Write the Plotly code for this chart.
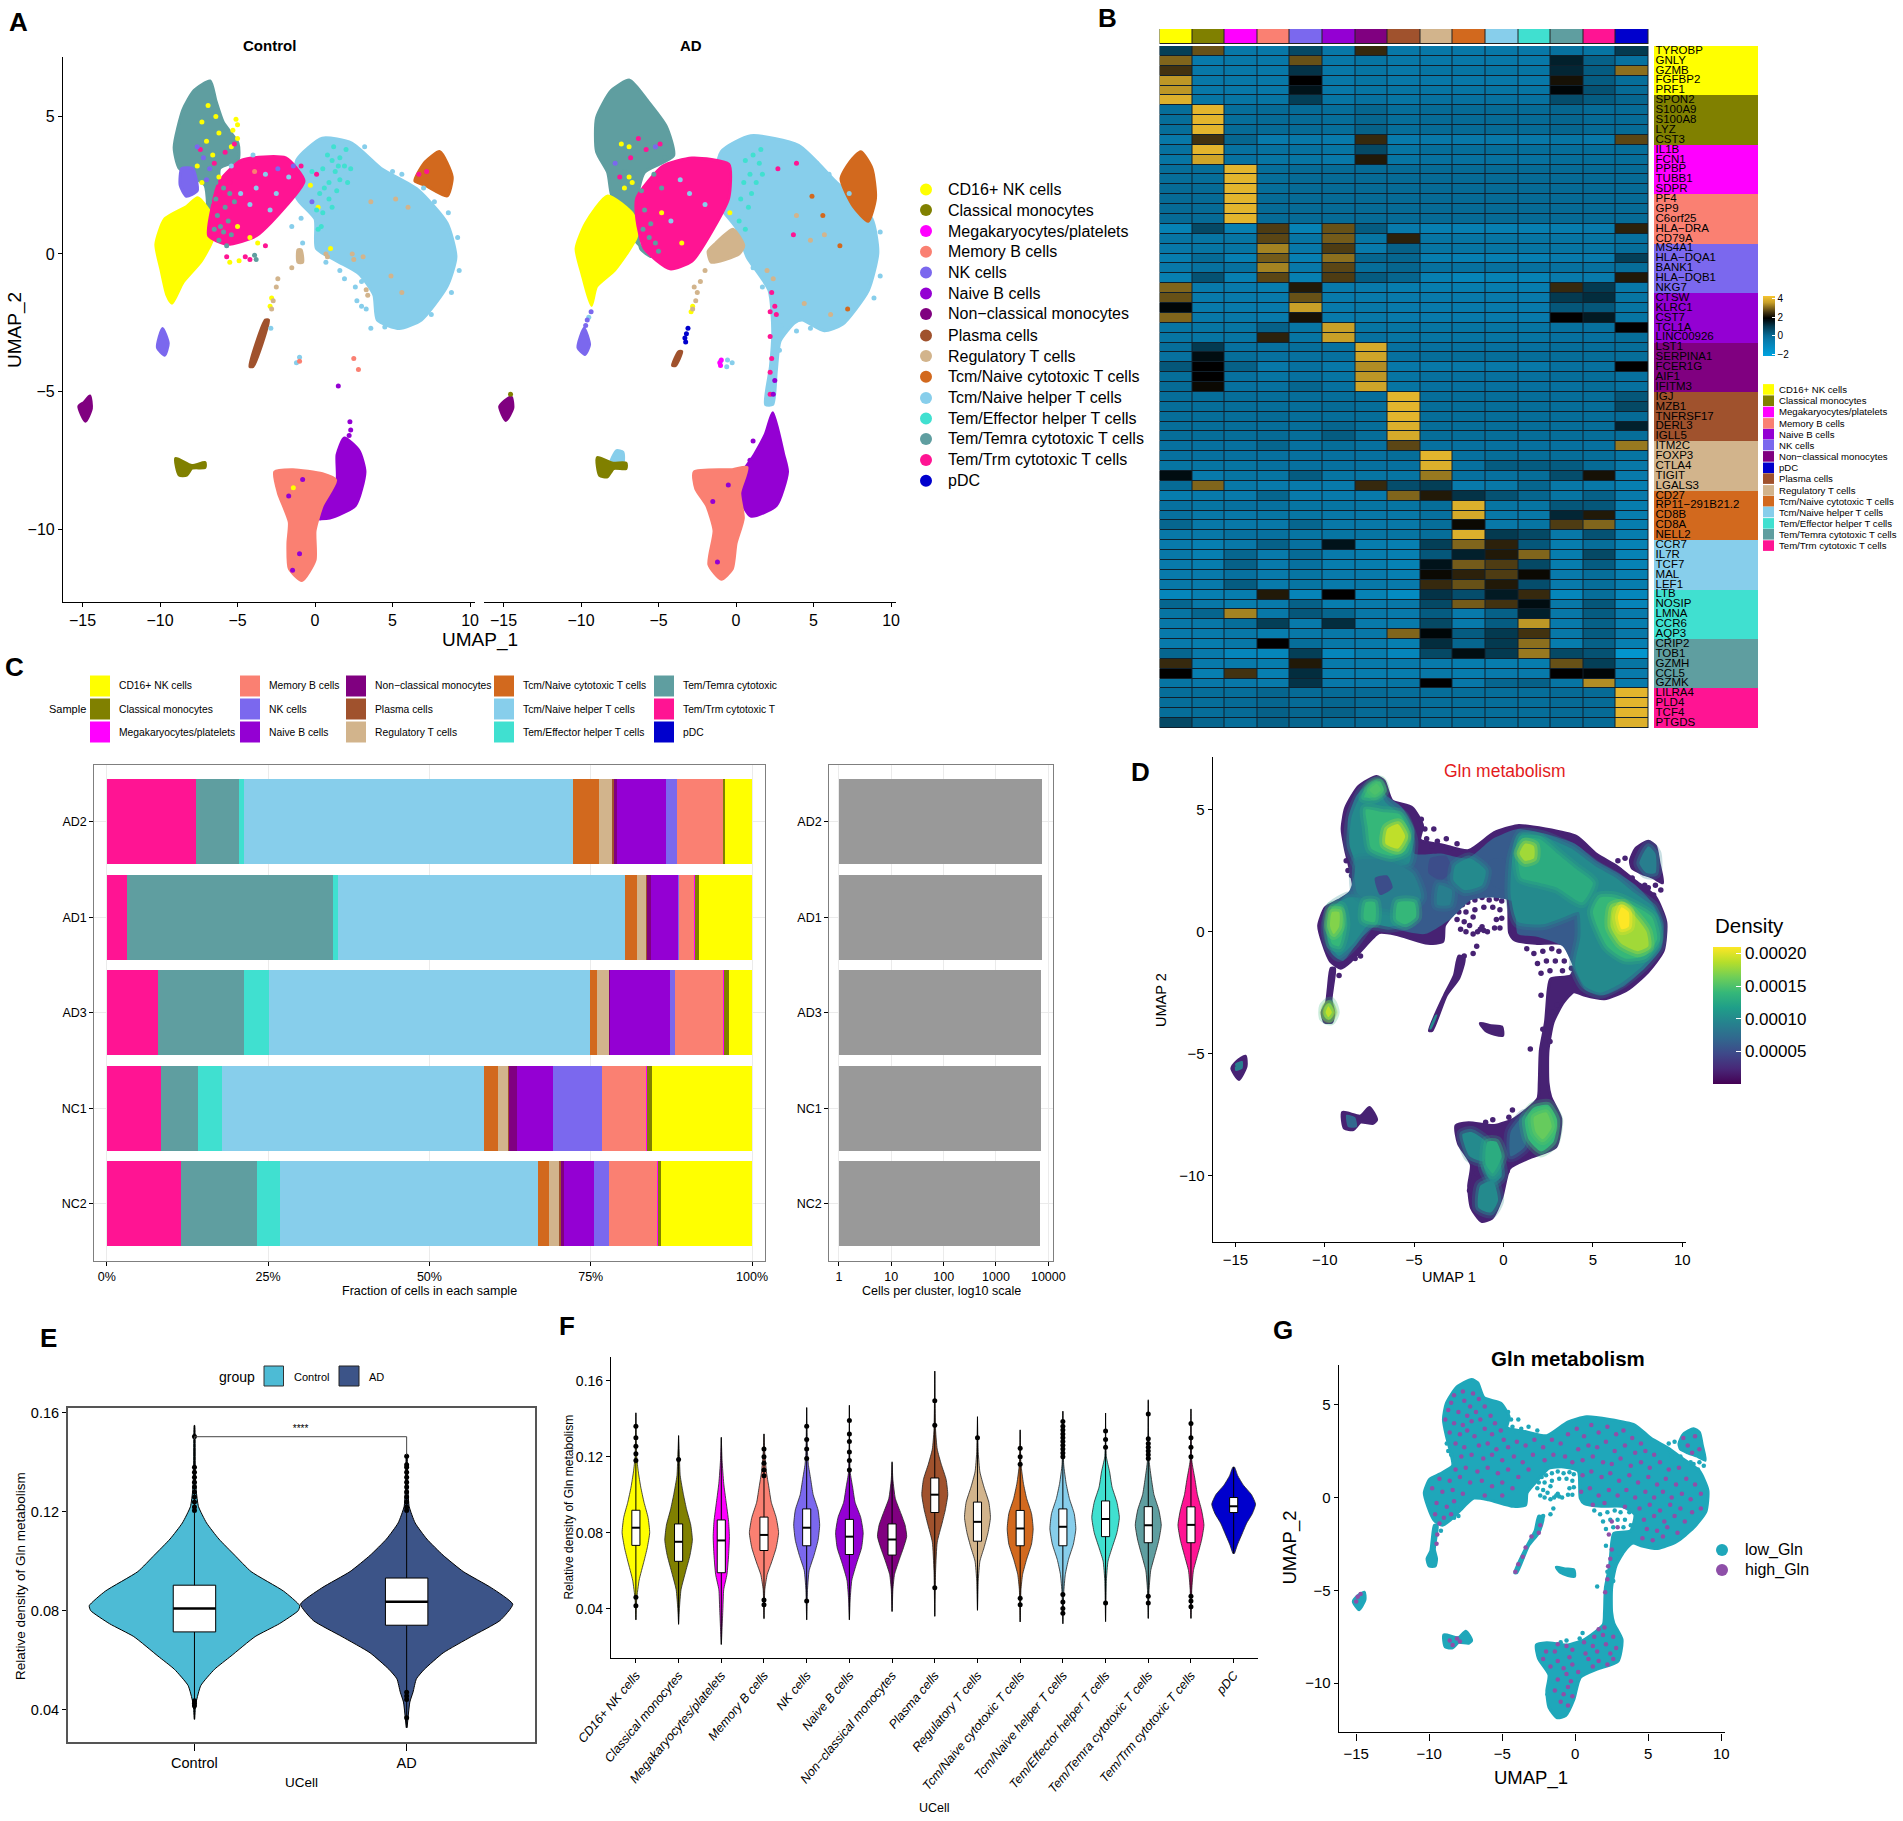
import plotly.graph_objects as go
from plotly.colors import sample_colorscale

W, H = 1903, 1821
FONT = "Liberation Sans"

# Cell types, as named in the panels
CELL_TYPES = ["CD16+ NK cells", "Classical monocytes", "Megakaryocytes/platelets", "Memory B cells",
              "NK cells", "Naive B cells", "Non\u2212classical monocytes", "Plasma cells", "Regulatory T cells",
              "Tcm/Naive cytotoxic T cells", "Tcm/Naive helper T cells", "Tem/Effector helper T cells",
              "Tem/Temra cytotoxic T cells", "Tem/Trm cytotoxic T cells", "pDC"]
YELLOW, OLIVE, MAGENTA, SALMON, SLATE, VIOLET, DPURPLE, SIENNA, TAN, ORANGE, SKY, TURQ, CADET, PINK, BLUE = (
    "#FFFF00", "#808000", "#FF00FF", "#FA8072", "#7B68EE", "#9400D3", "#800080", "#A0522D", "#D2B48C",
    "#D2691E", "#87CEEB", "#40E0D0", "#5F9EA0", "#FF1493", "#0000CD")
CELL_COLORS = [YELLOW, OLIVE, MAGENTA, SALMON, SLATE, VIOLET, DPURPLE, SIENNA, TAN, ORANGE, SKY, TURQ, CADET, PINK, BLUE]

# Panel A, control: cluster outlines
ctrl_helper = [(-1.18, 3.41), (.47, 4.21), (2.37, 4.03), (4.26, 3.11), (6.63, 2.34), (8.52, 1.12), (9.09, -.11),
               (8.52, -1.18), (6.86, -2.4), (5.44, -2.71), (4.02, -2.4), (3.79, -1.49), (2.84, -.72), (1.42, -.26),
               (.09, .2), (0, 1.27), (-1.18, 2.04)]
ctrl_temra = [(-8.52, 5.25), (-7.81, 5.94), (-6.77, 6.29), (-6.39, 5.56), (-5.92, 4.79), (-4.97, 4.03), (-4.97, 3.41),
              (-6.15, 3.11), (-6.0, 1.6), (-6.3, .6), (-6.86, 1.27), (-7.1, 2.5), (-8.76, 3.11), (-9.09, 3.87)]
ctrl_yellow = [(-10.27, .35), (-9.7, 1.27), (-8.28, 1.73), (-7.57, 2.04), (-6.53, 1.27), (-6.63, .5), (-7.34, -.26),
               (-8.52, -1.03), (-9.23, -1.79), (-9.56, -1.49), (-9.94, -.57)]
ctrl_pink = [(-6.15, 2.65), (-4.73, 3.41), (-1.89, 3.49), (-.71, 2.65), (-1.89, 1.73), (-3.79, .66), (-5.68, .35),
             (-6.86, .66), (-6.63, 1.73)]
ctrl_nk = [(-9.84, -2.71), (-9.47, -3.25), (-9.7, -3.68), (-10.17, -3.4)]
ctrl_nk_patch = [(-8.6, 3.1), (-7.9, 3.1), (-7.6, 2.3), (-8.3, 2.1), (-8.7, 2.5)]
ctrl_orange = [(8.05, 3.72), (8.85, 2.8), (8.52, 2.11), (7.1, 2.5), (6.44, 2.65), (7.1, 3.34)]
ctrl_nonclass = [(-14.53, -5.16), (-14.43, -5.62), (-14.81, -6.08), (-15.24, -5.54), (-14.9, -5.39)]
ctrl_olive = [(-8.99, -7.43), (-7.95, -7.69), (-7.1, -7.58), (-7.1, -7.76), (-7.95, -7.79), (-8.28, -8.04), (-8.76, -8.04)]
ctrl_naive = [(1.89, -6.69), (2.84, -7.15), (3.22, -7.92), (2.6, -9.14), (.95, -9.6), (0, -9.6), (.71, -8.99),
              (1.42, -8.22), (1.42, -7.3)]
ctrl_memory = [(-2.6, -7.92), (-1.42, -7.84), (.47, -7.99), (1.33, -8.22), (.47, -9.14), (0, -10.06), (0, -11.13),
               (-.85, -11.87), (-1.66, -11.44), (-1.75, -10.52), (-1.66, -9.75), (-2.37, -8.68)]
ctrl_plasma = [(-4.2, -4.09), (-4.0, -4.09), (-3.0, -2.4), (-3.2, -2.4)]
ctrl_tan = [(-1.1, .15), (-.9, .15), (-.8, -.3), (-1.1, -.3)]
ctrl_yellow_dots = [(-6.9, 5.4), (-6.4, 5.0), (-7.3, 4.8), (-6.2, 4.4), (-5.1, 4.9), (-5.3, 4.5), (-5.0, 4.2), (-5.4, 3.9),
                    (-7.0, 4.1), (-6.6, 3.6), (-7.6, 3.2), (-6.2, 2.8), (-7.3, 2.6), (-5.0, 1.0), (-4.2, .6), (-3.7, .4),
                    (-5.5, -.3), (-4.9, -.25), (.2, 1.7), (-.3, 2.5), (-2.8, -1.6), (-2.9, -1.9), (1.0, .2), (-1.4, -8.5), (-5.0, 4.7)]
ctrl_turq_dots = [(.8, 3.6), (1.2, 3.9), (1.6, 3.5), (2.0, 3.8), (1.9, 3.2), (1.3, 3.0), (.9, 2.6), (.5, 3.1), (1.6, 2.7),
                  (.3, 2.2), (.9, 2.0), (.5, 1.5), (.2, .9), (.4, 1.0), (2.1, 2.6), (1.1, 1.7), (-.2, 3.0), (2.3, 3.1),
                  (1.5, 3.2), (1.1, 3.4), (.6, 2.4), (1.4, 2.3), (.1, 1.6)]
ctrl_tan_dots = [(3.6, 1.9), (5.2, 2.0), (6.0, 1.7), (.7, 0), (.8, -.1), (2.4, 0), (2.5, -.2), (-1.5, -.5), (4.9, -.8),
                 (3.3, -1.3), (3.4, -1.5), (-2.4, -.9), (-2.5, -1.2), (-2.7, -1.7), (-2.8, -2.0), (3.1, -.1), (5.6, -1.4)]
ctrl_sky_dots = [(-1.2, -3.95), (-1.0, -3.75), (-2.85, -2.7), (2.7, -1.7), (3.0, -1.9), (-1.5, 1.0), (-.9, 1.3), (-4.0, 3.6),
                 (-5.4, 3.2), (-.8, .4), (-3.2, 2.9), (-2.5, 2.2), (-4.2, 1.8), (-3.8, 2.4), (-2.9, 1.6), (-4.8, 2.2), (-1.7, 2.8),
                 (5.0, 3.0), (5.6, 2.9), (7.0, 2.4), (8.6, 1.5), (9.2, .6), (9.3, -.6), (8.8, -1.4), (3.3, -2.0), (3.6, -2.7), (4.5, -2.65),
                 (2.6, -1.2), (1.6, -.6), (1.9, -.9), (.7, -.3), (3.2, 3.9), (2.9, 3.7), (7.7, 1.9), (7.5, -2.2), (3.0, -1.0)]
ctrl_pink_dots = [(-5.5, 2.6), (-7.4, 3.8), (-4.2, -.2), (-4.5, -.1), (-5.8, 3.7), (7.2, 3.0), (6.7, 2.9), (.1, 2.9),
                  (-.9, 3.2), (-5.2, 4.0), (-6.5, 3.3), (-5.7, -.1), (-3.2, .3)]
ctrl_cadet_dots = [(-6.3, 1.4), (-5.9, .8), (-5.5, 2.2), (-6.4, 2.6), (-6.8, 1.9), (-5.8, 1.7), (-3.9, -.05), (-3.8, -.2), (-5.4, .7),
                   (-6.4, 2.0), (-5.9, 2.4), (-5.6, 1.2), (-6.1, 1.0), (-6.5, .9), (-5.2, 1.9), (-6.2, .5), (-5.7, .3)]
ctrl_salmon_dots = [(2.5, -3.8), (2.8, -4.2), (-1.0, -3.9), (-3.9, 3.0)]
ctrl_violet_dots = [(1.5, -4.8), (2.25, -6.1), (2.3, -6.4), (2.2, -6.6), (-1.0, -10.9), (-1.45, -11.5), (-1.7, -8.8), (-.8, -8.2)]
ctrl_slate_dots = [(-1.4, 3.2), (-.2, 1.9), (-2.4, 3.1), (-7.6, 3.9), (-7.2, 3.5), (-6.8, 3.1), (-7.0, 2.7)]

# Panel A, AD
ad_helper = [(-.95, 3.72), (.95, 4.3), (4.03, 3.95), (6.4, 2.65), (8.77, 1.27), (9.15, .05), (8.53, -1.33), (6.87, -2.56),
             (5.69, -2.79), (4.27, -2.4), (3.78, -2.5), (2.84, -3.17), (2.6, -4.24), (2.37, -5.47), (1.9, -5.47), (2.22, -4.09),
             (2.37, -2.86), (2.13, -1.33), (.71, -.11), (0, .96), (-1.42, 2.04)]
ad_temra = [(-9, 4.95), (-8.05, 5.94), (-6.87, 6.32), (-5.69, 5.56), (-4.5, 4.64), (-4.03, 3.57), (-5.92, 2.96), (-6.4, 1.88),
            (-6.16, .2), (-5.5, -.1), (-7.0, .8), (-8.05, 2.19), (-8.28, 2.96), (-9, 3.72)]
ad_yellow = [(-10.32, .2), (-9.7, 1.12), (-8.28, 2.11), (-6.63, 1.42), (-6.4, .66), (-7.81, -.57), (-9, -1.18), (-9.33, -1.87), (-9.94, -.72)]
ad_pink = [(-6.4, 2.04), (-4.73, 3.19), (-2.84, 3.49), (-.47, 3.26), (-.47, 2.04), (-1.42, .96), (-2.84, -.26), (-4.26, -.54), (-5.92, .2), (-6.4, 1.27)]
ad_orange = [(7.34, 3.34), (8.05, 3.72), (8.77, 3.11), (9, 2.04), (8.53, 1.19), (7.57, 1.73), (6.77, 2.73)]
ad_nk = [(-9.8, -2.7), (-9.45, -3.3), (-9.75, -3.65), (-10.2, -3.4)]
ad_nonclass = [(-14.5, -5.2), (-14.4, -5.6), (-14.85, -6.05), (-15.25, -5.55), (-14.95, -5.35)]
ad_olive = [(-8.95, -7.4), (-8.0, -7.6), (-7.1, -7.6), (-7.1, -7.8), (-7.9, -7.8), (-8.3, -8.1), (-8.8, -8.05)]
ad_olive_sky = [(-8.1, -7.6), (-7.7, -7.15), (-7.3, -7.2), (-7.3, -7.6), (-7.9, -7.75)]
ad_naive = [(2.37, -5.77), (3.08, -7.3), (3.32, -7.92), (2.6, -9.14), (.95, -9.53), (0, -8.38), (1.18, -7.3), (1.9, -6.54)]
ad_memory = [(-2.7, -7.92), (-.24, -7.84), (.71, -7.76), (.24, -8.68), (.47, -9.6), (0, -10.52), (-.24, -11.44), (-.95, -11.82),
             (-1.75, -11.29), (-1.42, -10.06), (-1.9, -9.14), (-2.6, -8.53)]
ad_plasma = [(-4.1, -4.05), (-3.9, -4.05), (-3.5, -3.55), (-3.7, -3.55)]
ad_tan = [(-1.3, .4), (-.2, .9), (.5, .3), (.2, 0), (-.7, -.2), (-1.6, -.3), (-1.8, .1)]
ad_yellow_dots = [(-7.4, 4.0), (-6.9, 3.9), (-6.9, 2.8), (-7.2, 2.4), (-6.7, 2.6), (-2.8, -1.9), (-2.9, -2.1), (-4.8, 1.5), (-3.5, .4), (-.4, 1.5)]
ad_turq_dots = [(.6, 3.4), (1.1, 3.6), (1.5, 3.3), (.9, 2.9), (.5, 2.6), (1.3, 2.6), (.3, 2.0), (.8, 1.7), (.2, 1.2), (1.0, 2.2), (1.7, 2.9), (.6, .9), (1.6, 3.8)]
ad_tan_dots = [(-2.0, -.6), (-2.3, -1.0), (-2.5, -1.4), (-2.6, -1.7), (-2.8, -2.0), (-2.7, -1.2), (2.0, -.6), (2.4, -.9), (5.7, .7), (4.8, .5), (3.9, 1.4), (4.4, -1.8), (6.1, -2.2)]
ad_pink_dots = [(2.3, -1.4), (2.5, -1.9), (2.2, -2.1), (2.6, -2.2), (2.2, -3.0), (2.3, -3.8), (2.2, -4.3), (2.2, -5.1), (-4.9, 4.0), (-6.3, 4.2), (-5.8, 3.8),
                (-6.8, 3.5), (2.7, 3.1), (3.7, .7), (3.9, 3.3), (-7.5, 2.8)]
ad_cadet_dots = [(-6.1, 2.3), (-5.6, .6), (-5.0, .1), (-4.6, 3.5), (-5.3, 2.9), (-7.2, 3.0), (-5.2, .4), (-4.8, 2.4), (-5.9, 1.6), (-5.5, 1.1), (-6.0, .9)]
ad_orange_dots = [(5.6, 1.4), (6.7, .3), (7.2, -2.0), (4.9, 2.1)]
ad_sky_dots = [(-1.0, -3.9), (-.6, -4.1), (-.25, -3.95), (-.55, -3.85), (-3.0, 2.2), (-4.2, 1.2), (-9.5, -2.3), (-2.0, 1.8), (-3.6, 2.7),
               (5.2, 3.3), (6.0, 2.9), (7.3, 2.2), (9.3, .8), (9.3, -.8), (8.9, -1.6), (3.9, -2.8), (4.8, -2.7), (2.9, -2.6), (2.8, -3.5), (1.7, -1.2), (1.1, -.5)]
ad_magenta_dots = [(-1.05, -3.95), (-.95, -3.85), (-1.0, -4.05)]
ad_blue_dots = [(-3.25, -3.2), (-3.3, -3.05), (-3.2, -2.9), (-3.1, -2.7)]
ad_violet_dots = [(-.5, -8.4), (-1.2, -11.2), (1.1, -6.8), (.9, -7.5), (-1.5, -9.0), (2.4, -5.1), (2.5, -4.6)]
ad_slate_dots = [(-9.35, -2.1), (-9.6, -2.4), (-9.7, -2.6), (-5.2, 3.9), (-7.8, 3.3)]
ad_olive_dots = [(-14.55, -5.1)]

# Panel B: genes, top to bottom, and scaled expression per cluster column
GENES = ["TYROBP", "GNLY", "GZMB", "FGFBP2", "PRF1", "SPON2", "S100A9", "S100A8", "LYZ", "CST3", "IL1B", "FCN1", "PPBP", "TUBB1",
         "SDPR", "PF4", "GP9", "C6orf25", "HLA\u2212DRA", "CD79A", "MS4A1", "HLA\u2212DQA1", "BANK1", "HLA\u2212DQB1", "NKG7", "CTSW", "KLRC1",
         "CST7", "TCL1A", "LINC00926", "LST1", "SERPINA1", "FCER1G", "AIF1", "IFITM3", "IGJ", "MZB1", "TNFRSF17", "DERL3", "IGLL5",
         "ITM2C", "FOXP3", "CTLA4", "TIGIT", "LGALS3", "CD27", "RP11\u2212291B21.2", "CD8B", "CD8A", "NELL2", "CCR7", "IL7R", "TCF7",
         "MAL", "LEF1", "LTB", "NOSIP", "LMNA", "CCR6", "AQP3", "CRIP2", "TOB1", "GZMH", "CCL5", "GZMK", "LILRA4", "PLD4", "TCF4", "PTGDS"]
HEAT = [
    [.9, 2.8, -.4, -.4, .7, -.4, 2.4, -.4, -.4, -.4, -.4, -.4, -.2, -.3, 1.0],
    [3.0, -.5, -.4, -.4, 2.8, -.4, -.3, -.4, -.4, -.4, -.4, -.4, 1.4, .2, -.2],
    [2.5, -.4, -.4, -.4, 1.1, -.4, -.3, -.4, -.3, -.3, -.3, -.3, 1.3, .3, 3.1],
    [3.5, -.4, -.4, -.4, 1.9, -.4, -.3, -.4, -.4, -.4, -.4, -.4, 2.1, .3, -.1],
    [3.5, -.4, -.4, -.4, 1.6, -.4, -.3, -.3, -.3, -.3, -.3, -.3, 1.8, .5, 0],
    [3.9, -.3, -.3, -.3, .9, -.3, -.2, -.3, -.2, -.2, -.2, -.2, .6, .3, .1],
    [-.1, 4.0, -.1, 0, 0, -.1, .1, -.1, 0, 0, 0, 0, .1, 0, 0],
    [-.1, 4.0, -.1, 0, 0, -.1, .1, -.1, 0, 0, 0, 0, .1, 0, 0],
    [-.1, 4.0, 0, 0, 0, -.1, .2, -.1, 0, 0, 0, 0, .1, 0, 0],
    [-.4, 2.5, .1, -.5, -.4, -.5, 2.4, -.5, -.4, -.4, -.4, -.4, -.3, -.4, 2.7],
    [-.2, 4.0, -.2, -.2, -.2, -.3, .7, -.3, -.1, -.1, -.1, -.1, -.1, -.1, -.1],
    [-.3, 3.7, -.2, -.3, -.3, -.4, 2.2, -.3, -.2, -.2, -.2, -.2, -.1, -.1, -.1],
    [-.1, -.1, 4.0, -.1, 0, 0, 0, 0, 0, 0, 0, 0, 0, 0, 0],
    [-.1, -.1, 4.0, -.1, 0, 0, 0, 0, 0, 0, 0, 0, 0, 0, 0],
    [0, 0, 4.0, -.1, 0, 0, 0, 0, 0, 0, 0, 0, 0, 0, 0],
    [0, 0, 4.0, 0, 0, 0, 0, 0, 0, 0, 0, 0, 0, 0, 0],
    [0, 0, 4.0, 0, 0, 0, 0, 0, 0, 0, 0, 0, 0, 0, 0],
    [0, 0, 4.0, 0, 0, 0, 0, 0, 0, 0, 0, 0, 0, 0, 0],
    [-.8, .7, -.7, 2.6, -.8, 2.8, .3, -.5, -.7, -.7, -.7, -.7, -.6, -.5, 2.3],
    [-.3, -.3, -.3, 2.7, -.3, 2.9, -.3, 2.3, -.3, -.3, -.3, -.3, -.3, -.3, -.2],
    [-.4, -.3, -.3, 3.3, -.4, 2.6, -.5, .2, -.3, -.3, -.3, -.3, -.3, -.3, -.1],
    [-.6, 0, -.7, 2.9, -.7, 3.1, .1, .1, -.6, -.7, -.7, -.7, -.5, -.5, .9],
    [-.4, -.2, -.2, 3.3, -.4, 2.7, -.1, .1, -.2, -.2, -.2, -.2, -.2, -.2, -.1],
    [-.7, .5, -.7, 2.7, -.7, 2.6, .3, .1, -.7, -.9, -.8, -.8, -.5, -.5, 2.2],
    [3.0, -.5, -.5, -.6, 2.2, -.5, -.5, -.6, -.6, -.6, -.6, -.6, 2.4, 1.0, -.4],
    [2.8, -.5, -.5, -.5, 2.8, -.5, -.5, -.5, -.5, -.5, -.5, -.5, 1.0, 1.2, -.3],
    [1.8, -.5, -.5, -.5, 3.6, -.5, -.4, -.5, -.5, -.5, -.5, -.5, .4, .4, -.3],
    [3.0, -.4, -.4, -.5, 2.1, -.5, -.4, -.5, -.5, -.5, -.5, -.5, 1.9, 1.5, -.3],
    [-.3, -.3, -.3, .2, -.3, 3.6, -.3, -.3, -.3, -.3, -.3, -.3, -.2, -.2, 1.9],
    [-.3, -.3, -.3, 2.3, -.3, 3.6, -.2, -.3, -.3, -.3, -.3, -.3, -.2, -.2, -.1],
    [-.1, 1.0, -.2, -.2, -.1, -.2, 3.8, -.2, -.2, -.2, -.2, -.2, -.1, -.1, -.1],
    [-.2, 1.7, -.1, -.2, -.2, -.2, 3.7, -.2, -.1, -.1, -.1, -.1, -.1, -.1, -.1],
    [.4, 1.9, .2, -.4, -.2, -.4, 3.4, -.4, -.4, -.4, -.4, -.4, -.2, -.2, 1.9],
    [-.1, 1.9, -.2, -.3, -.2, -.3, 3.5, -.3, -.2, -.2, -.2, -.2, -.1, -.1, -.2],
    [0, 2.0, -.2, -.2, .1, -.2, 3.7, -.3, -.2, -.2, -.2, -.2, -.2, -.1, -.2],
    [-.1, -.1, -.1, -.1, -.1, -.1, -.1, 4.0, -.1, -.1, -.1, -.1, -.1, -.1, .4],
    [-.1, -.1, -.1, -.1, -.1, 0, -.1, 4.0, -.1, -.1, -.1, -.1, -.1, -.1, .7],
    [-.1, -.1, -.1, 0, -.1, -.1, -.1, 4.0, -.1, -.1, -.1, -.1, -.1, -.1, 0],
    [-.1, -.1, -.1, -.1, -.1, .1, -.1, 3.9, -.1, -.1, -.1, -.1, -.1, -.1, 1.4],
    [-.1, -.1, -.1, 0, -.1, .3, -.1, 3.8, -.1, -.1, -.1, -.1, -.1, -.1, -.1],
    [-.2, -.2, -.2, .1, -.2, -.1, -.2, 2.7, -.2, -.2, -.2, -.2, -.2, -.2, 3.2],
    [-.2, -.2, -.2, -.2, -.2, -.2, -.2, -.1, 4.0, -.2, -.1, -.1, -.1, -.1, -.3],
    [-.3, -.3, -.3, -.2, -.2, -.2, -.2, -.2, 3.9, -.2, .3, .3, .3, 0, -.4],
    [1.7, -.5, -.3, -.3, .3, -.3, -.3, -.3, 3.2, -.2, -.2, -.1, .6, 2.1, -.5],
    [0, 3.0, -.4, -.5, -.5, -.5, 2.4, .6, .9, -.5, -.4, .1, -.4, -.4, -.7],
    [-.6, -.5, -.5, .1, -.5, -.5, -.5, 3.0, 2.2, 1.1, .5, .1, -.3, .2, -.5],
    [-.2, -.3, -.2, -.2, -.3, -.3, -.3, -.3, -.1, 3.9, -.3, -.3, .4, .4, -.6],
    [-.2, -.4, -.4, -.3, -.3, -.4, -.4, -.4, -.2, 3.8, -.4, -.4, 1.3, 2.2, -.6],
    [.1, -.4, -.4, -.4, .1, -.4, -.4, -.4, -.1, 2.0, -.4, -.3, 2.6, 3.0, -.6],
    [-.4, -.4, -.2, -.2, -.3, -.3, -.3, -.3, -.1, 3.9, 1.0, .7, -.4, .5, -.6],
    [-.5, -.7, -.4, .2, -.2, 1.6, -.6, -.7, .9, 3.0, 2.3, .4, -.6, -.1, -.8],
    [-.4, -.7, .1, -.5, .0, -.5, -.6, -.7, .4, 1.4, 2.2, 3.0, -.6, .7, -.8],
    [-.5, -.6, .2, -.5, -.2, -.6, -.6, -.8, 1.6, 2.9, 2.6, .7, -.6, .3, -.8],
    [-.5, -.5, -.2, -.5, -.3, -.5, -.5, -.7, 2.0, 2.3, 2.6, 2.0, -.5, -.1, -.7],
    [-.4, -.5, .3, -.5, -.3, -.5, -.4, -.5, 2.4, 2.8, 2.2, .6, -.5, -.1, -.6],
    [-1.0, -.7, -.6, 2.2, -.9, 1.9, -.8, -1.2, 1.1, .6, 1.5, 2.4, -1.0, -.1, -1.0],
    [.1, -.4, -.6, -.5, .2, -.6, -.5, -.4, .7, 2.9, 2.5, 1.7, -.4, .4, -.9],
    [-.3, .1, 3.3, -.4, .4, .1, -.4, -.5, .3, -.5, .2, 1.4, -.4, .3, -.5],
    [-.4, -.4, -.1, .9, -.5, 1.2, -.5, -.5, .7, -.5, .3, 3.5, -.5, .2, -.6],
    [-.5, -.5, -.4, -.6, -.4, -.4, -.4, 3.0, 1.8, .3, 1.0, 2.5, -.4, .3, -.4],
    [-.5, -.6, -.4, 1.9, -.1, -.4, -.5, -.7, 1.2, .1, 1.0, 3.1, -.6, .2, -.7],
    [.1, -.5, -1.0, -1.0, .9, -1.0, -.6, -1.0, .7, 1.7, 1.0, 3.2, .7, .5, -1.6],
    [2.4, -.5, -.5, -.6, 2.2, -.5, -.5, -.5, -.5, -.6, -.6, -.6, 2.8, .9, -.3],
    [1.9, -.7, 2.5, -.7, 1.2, -.6, -.6, -.6, -.4, -.6, -.5, -.5, 1.9, 1.8, -.5],
    [-.3, -.4, -.4, -.5, 1.1, -.4, -.4, -.3, 1.9, -.4, .1, .2, -.3, 3.4, -.5],
    [-.1, -.1, -.1, .1, 0, 0, 0, -.1, -.1, -.1, -.1, -.1, 0, 0, 4.0],
    [-.1, -.1, 0, .1, 0, .1, 0, 0, -.1, -.1, -.1, -.1, 0, 0, 4.0],
    [-.1, -.1, 0, .2, .1, .2, 0, .1, -.1, -.1, -.1, -.1, 0, 0, 4.0],
    [.7, .1, -.1, .2, .1, 0, 0, -.1, -.1, -.1, -.1, -.1, 0, 0, 3.9],
]
HEAT_LEGEND = [CELL_TYPES[i] for i in (0, 1, 2, 3, 5, 4, 6, 14, 7, 8, 9, 10, 11, 12, 13)]
HEAT_LEGEND_COLORS = [CELL_COLORS[i] for i in (0, 1, 2, 3, 5, 4, 6, 14, 7, 8, 9, 10, 11, 12, 13)]
# stack order left to right in panel C
SAMPLES = ["NC2", "NC1", "AD3", "AD1", "AD2"]
STACK_ORDER = [13, 12, 11, 10, 9, 8, 7, 6, 5, 4, 3, 2, 1, 0]
frac_AD2 = [13.9, 6.6, .7, 51.1, 4.0, 2.2, .1, .4, 7.6, 1.7, 7.3, .0, .2, 4.2]
frac_AD1 = [3.1, 31.9, .9, 44.4, 1.9, 1.5, .05, .55, 4.3, .1, 2.4, .05, .65, 8.2]
frac_AD3 = [7.9, 13.3, 4.0, 49.7, 1.0, 2.0, .05, .05, 9.3, .7, 7.6, .05, .85, 3.5]
frac_NC1 = [8.4, 5.7, 3.7, 40.7, 2.1, 1.7, .1, 1.2, 5.6, 7.5, 7.0, .05, .75, 15.5]
frac_NC2 = [11.5, 11.8, 3.5, 40.0, 1.8, 1.6, .2, .5, 4.6, 2.3, 7.6, .05, .45, 14.1]
cells_per_sample = [7000, 7200, 7300, 7450, 7590]
C_LEGEND_COLS = [[0, 1, 2], [3, 4, 5], [6, 7, 8], [9, 10, 11], [12, 13, 14]]
C_LEGEND_CLIPPED = {12: "Tem/Temra cytotoxic", 13: "Tem/Trm cytotoxic T"}

# Panel D / G: shared silhouette of all cells
body = [(-10.34, .25), (-9.97, .98), (-9.25, 1.27), (-8.4, 1.71), (-8.54, 2.44), (-8.83, 3.32), (-9.03, 4.2), (-8.83, 5.07), (-8.1, 5.95),
        (-7.1, 6.35), (-6.68, 6.17), (-6.25, 5.37), (-5.1, 5.07), (-4.53, 4.34), (-4.67, 3.76), (-3.38, 3.54), (-1.95, 3.32), (-.52, 4.05),
        (.77, 4.34), (2.35, 4.2), (4.07, 3.9), (5.2, 3.17), (6.36, 2.66), (7.36, 2.08), (8.5, 1.42), (9.08, .39), (8.94, -.77), (8.08, -1.65),
        (6.93, -2.38), (5.64, -2.75), (4.5, -2.6), (3.93, -2.46), (3.35, -2.9), (2.78, -3.7), (2.49, -4.87), (2.49, -6.18), (2.64, -6.77),
        (3.2, -7.65), (2.92, -8.82), (1.49, -9.25), (.34, -9.69), (-.09, -10.86), (-.66, -11.74), (-1.23, -11.86), (-1.8, -11.3), (-1.95, -10.42),
        (-1.8, -9.55), (-2.52, -8.67), (-2.66, -7.94), (-1.95, -7.82), (-.52, -7.94), (.63, -7.65), (1.92, -6.84), (2.0, -6.18), (2.06, -4.87),
        (2.35, -3.7), (2.5, -2.4), (2.64, -1.94), (3.78, -1.8), (4.07, -.92), (3.2, -.48), (1.78, -.48), (.63, -.34), (.34, -.04), (.2, 1.42),
        (-.8, 1.64), (-1.8, 1.57), (-2.5, 1.0), (-3.3, .25), (-3.4, -.4), (-4.24, -.48), (-5.96, -.12), (-6.96, -.04), (-7.97, -.77), (-8.54, -1.21),
        (-9.1, -1.5), (-9.68, -1.21), (-10.1, -.48)]
isl_nk = [(-9.45, -1.5), (-9.55, -2.2), (-9.65, -2.8), (-9.5, -3.3), (-9.6, -3.7), (-10, -3.7), (-10.15, -3.3), (-9.9, -2.9), (-9.8, -2.3), (-9.65, -1.5)]
isl_line = [(-4.15, -4.05), (-4.0, -4.05), (-3.2, -2.6), (-2.5, -1.9), (-2.2, -1.1), (-2.5, -1.0), (-2.75, -1.8), (-3.3, -2.6)]
isl_small = [(-1.3, -3.75), (-.7, -3.85), (-.1, -3.9), (-.05, -4.25), (-.5, -4.2), (-1, -4.05)]
isl_nc = [(-14.45, -5.1), (-14.4, -5.5), (-14.8, -6.05), (-15.2, -5.6), (-14.9, -5.3)]
isl_olive = [(-9, -7.4), (-8, -7.55), (-7.5, -7.2), (-7.1, -7.7), (-7.3, -7.85), (-8, -7.8), (-8.4, -8.1), (-8.9, -8.05)]
isl_orange = [(7.1, 2.9), (7.4, 3.4), (8.1, 3.7), (8.5, 3.5), (8.7, 2.8), (8.9, 2.0), (8.4, 2.2), (7.7, 2.4), (7.2, 2.6)]
stray_cells = [(-2.3, 1.1), (-2.0, 1.2), (-1.6, 1.3), (-1.2, 1.4), (-.8, 1.3), (-.4, 1.35), (-.1, 1.25), (-2.5, .8), (-2.1, .8), (-1.6, .9), (-1.1, 1.0),
               (-.6, 1.0), (-.2, .9), (-2.6, .5), (-2.2, .4), (-1.7, .6), (-.4, .5), (-.1, .55), (-2.4, .1), (-2.1, .0), (-1.9, .25), (-1.7, -.1), (-1.45, 0),
               (-1.2, .2), (-1.3, .1), (-1.1, .05), (-.9, .0), (-.5, .15), (-.2, .15), (-1.5, -.6), (-1.7, -.9), (-2.2, -1.0), (1.3, -.7), (1.7, -.9), (2.2, -.8),
               (2.7, -.7), (3.1, -.8), (3.7, -.8), (1.9, -1.3), (2.4, -1.2), (2.9, -1.2), (3.4, -1.2), (2.1, -1.7), (2.6, -1.6), (3.3, -1.6), (3.8, -1.5),
               (-4.6, 4.6), (-4.4, 4.2), (-3.9, 4.2), (-4.3, 3.8), (-3.7, 3.7), (-3.2, 3.8), (-2.6, 3.6), (-4.0, 3.5), (-3.0, 3.4), (6.5, 2.5), (6.4, 2.9),
               (6.8, 3.0), (6.6, 2.2), (7.2, 2.2), (8.1, 1.8), (8.5, 1.9), (8.8, 1.7), (7.9, 1.9), (8.4, 1.5), (-8.8, 2.9), (-8.7, 2.5), (-8.5, 2.3), (-8.0, -1.0),
               (-8.1, -.6), (-8.3, -1.1), (-9.2, -1.8), (-7.7, -.3), (-1.9, -10.6), (-1.5, -9.9), (.2, -9.8), (.5, -9.5), (-.6, -7.7), (.3, -7.6), (.5, -7.3), (-1, -7.8),
               (1.5, -4.8), (3.0, -3.0), (2.2, -4.0), (2.6, -4.5), (2.7, -3.3), (2.1, -2.6)]

# Panel D: density levels (lowest first) with the region each covers
DENSITY_BASE = 0.00002
DENSITY_MAX = 0.00021
dens_mid = (0.00006, [(-9.9, .2), (-9.6, .9), (-8.6, 1.7), (-8.3, 2.6), (-8.6, 3.6), (-8.7, 4.6), (-8.2, 5.6), (-7.1, 6.2), (-6.6, 5.6), (-5.7, 5.1), (-5, 4.2), (-5, 3.2),
                      (-3.5, 3.2), (-2, 3), (-.6, 3.8), (.8, 4.2), (2.4, 4), (4, 3.6), (5.2, 2.9), (6.4, 2.4), (7.4, 1.9), (8.3, 1.2), (8.9, .3), (8.8, -.7), (7.9, -1.5), (6.8, -2.2),
                      (5.6, -2.6), (4.6, -2.4), (4, -1.6), (3.3, -.6), (1.8, -.2), (.8, -.1), (.6, 1.2), (-.6, 1.4), (-1.8, 1.3), (-3, .5), (-4.4, -.1), (-6, .1), (-7, .3), (-8, -.3),
                      (-9, -1.2), (-9.6, -.9)])
dens_temra = (0.0001, [(-8.6, 3.5), (-8.5, 4.7), (-7.9, 5.7), (-7.1, 6.1), (-6.6, 5.3), (-5.6, 4.7), (-5.1, 3.7), (-5.3, 2.8), (-6.7, 2.6), (-7.9, 2.5)])
dens_left = (0.0001, [(-9.9, .2), (-9.6, 1), (-8.7, 1.4), (-8.2, 1.4), (-7.6, 1.4), (-6.6, 1.6), (-5.4, 1.9), (-5, 1), (-5.2, .4), (-6.4, .2), (-7.5, .3), (-8.4, -.5), (-9.2, -1), (-9.7, -.6)])
dens_centre = (0.00009, [(-8.2, 2.9), (-6.5, 2.9), (-5.1, 2.4), (-4.6, 1.4), (-5.4, .9), (-7, 1), (-8.2, 1.6)])
dens_dark = (0.00005, [(-7.2, 2.2), (-6.5, 2.3), (-6.2, 1.8), (-6.9, 1.5)])
dens_dark2 = (0.00005, [(-4.1, 3.0), (-3.2, 3.1), (-2.9, 2.5), (-3.5, 2.1), (-4.2, 2.4)])
dens_dark3 = (0.00006, [(-.8, 2.9), (0, 3.0), (.4, 2.2), (.1, 1.7), (-.6, 1.9)])
dens_mid2 = (0.0001, [(-2.7, 2.7), (-1.9, 3), (-1, 2.5), (-1.2, 1.9), (-2.2, 1.7), (-2.8, 2.1)])
dens_mid3 = (0.00009, [(-3.6, 1.9), (-2.9, 1.7), (-3, 1.1), (-3.7, 1.1)])
dens_right = (0.0001, [(.5, 3), (1, 4), (2.2, 3.9), (3.8, 3.4), (5.1, 2.7), (6.3, 2.2), (7.3, 1.6), (8.4, 1), (8.8, .3), (8.7, -.6), (7.8, -1.4), (6.6, -2.1), (5.4, -2.5), (4.5, -2.2),
                       (4, -1.4), (4.3, -.2), (4.2, .8), (3.4, .6), (2.2, .3), (.8, .4), (.4, 1.5)])
dens_orange = (0.00009, [(7.6, 2.8), (8.1, 3.5), (8.5, 3.2), (8.5, 2.4), (8.0, 2.4)])
dens_nc = (0.00009, [(-14.6, -5.3), (-14.6, -5.6), (-15, -5.7), (-15, -5.4)])
dens_line = (0.0001, [(-4.15, -4.0), (-4.05, -4.0), (-3.7, -3.4), (-3.8, -3.4)])
dens_olive = (0.00007, [(-8.8, -7.5), (-8.3, -7.6), (-8.2, -8), (-8.7, -8)])
dens_m1 = (0.0001, [(-2.3, -8.3), (-1.8, -8.2), (-1, -8.6), (-1.1, -9.4), (-1.9, -9.2)])
dens_m2 = (0.0001, [(-1.1, -9.6), (-.3, -9.2), (-.1, -10), (-.6, -10.3)])
dens_m3 = (0.0001, [(-1.3, -10.4), (-.6, -10.2), (-.3, -11), (-.7, -11.5), (-1.4, -11.3)])
dens_b_low = (0.00007, [(.4, -8.2), (1.2, -7.5), (1.2, -8.8), (.4, -9.2)])
dens_g1 = (0.00014, [(-7.4, 3.4), (-7.6, 4.3), (-7.7, 5), (-6.8, 4.9), (-5.8, 4.8), (-5.3, 4.1), (-5.5, 3.3), (-6.3, 3.1)])
dens_g2 = (0.00014, [(-7.8, 5.5), (-7.4, 6), (-6.9, 6.15), (-6.7, 5.8), (-7.2, 5.5)])
dens_g3 = (0.00014, [(-9.8, .3), (-9.6, 1.0), (-9.1, 1.0), (-8.9, .3), (-9.2, -.6), (-9.6, -.5)])
dens_g4 = (0.00014, [(-7.8, .5), (-7.7, 1.2), (-7.2, 1.2), (-7.2, .4)])
dens_g5 = (0.00014, [(-6, .5), (-5.9, 1.2), (-5, 1.2), (-4.9, .6), (-5.5, .3)])
dens_g6 = (0.00013, [(.8, 3.0), (1, 3.8), (2, 3.8), (3, 3.2), (4, 2.6), (5, 2), (4.4, 1.2), (3, 1.8), (2, 2), (1, 2.2)])
dens_g7 = (0.00014, [(5, .8), (5.4, 1.4), (6.2, 1.4), (7.2, 1.1), (8.3, .6), (8.6, -.3), (7.9, -1), (6.8, -1.1), (5.8, -.6)])
dens_g8 = (0.00014, [(1.2, -7.7), (1.7, -7.2), (2.5, -7.1), (3, -7.7), (2.8, -8.6), (2.1, -9), (1.4, -8.5)])
dens_g9 = (0.00013, [(-.9, -8.6), (-.4, -8.6), (-.1, -9.2), (-.6, -9.9), (-1, -9.5)])
dens_g10 = (0.00014, [(-10, -3.1), (-9.7, -2.9), (-9.5, -3.3), (-9.7, -3.6), (-10, -3.5)])
dens_y1 = (0.00019, [(-6.6, 3.6), (-6.5, 4.2), (-5.9, 4.4), (-5.5, 3.9), (-5.9, 3.4)])
dens_y2 = (0.00017, [(-9.7, .2), (-9.6, .8), (-9.2, .8), (-9.2, .2), (-9.5, -.1)])
dens_y3 = (0.00018, [(.9, 3.2), (1.2, 3.6), (1.7, 3.5), (1.7, 3.0), (1.2, 2.9)])
dens_y4 = (0.00018, [(6, .2), (6.1, 1), (6.7, 1.1), (7.4, .6), (8, .0), (8.1, -.6), (7.5, -.8), (6.6, -.5)])
dens_y5 = (0.00021, [(6.4, .6), (6.6, 1), (7, .8), (7, .2), (6.6, .1)])
dens_y6 = (0.00019, [(-9.95, -3.3), (-9.8, -3.05), (-9.6, -3.3), (-9.8, -3.5)])
dens_y7 = (0.00016, [(1.7, -7.6), (2.4, -7.4), (2.7, -8), (2.2, -8.5), (1.8, -8.2)])
dens_y8 = (0.00015, [(-7.5, 5.8), (-7.1, 6.05), (-6.85, 5.8), (-7.2, 5.6)])

# Panel E: violin outlines read as (value, half width)
ctrl_profile = [(.036, .001), (.040, .004), (.043, .008), (.0497, .03), (.0563, .095), (.0616, .172), (.0695, .286), (.0747, .40), (.08, .489), (.082, .496),
                (.0879, .42), (.0958, .267), (.1024, .19), (.109, .115), (.1155, .057), (.1221, .019), (.1287, .008), (.1353, .004), (.155, .001)]
ad_profile = [(.0326, .002), (.043, .015), (.047, .03), (.0524, .046), (.0563, .084), (.0629, .172), (.0695, .305), (.076, .44), (.0826, .5),
              (.0892, .40), (.0958, .267), (.1024, .172), (.109, .095), (.1155, .04), (.1221, .012), (.1287, .006), (.1435, .001)]
e_q1, e_med, e_q3 = [.0714, .0741], [.0809, .0836], [.0903, .0932]
e_low, e_high = [.036, .0326], [.155, .1435]
e_ctrl_outliers = [.0415, .0425, .0435, .1505, .1205, .122, .124, .126, .128, .13, .132, .134, .136, .138]
e_ad_outliers = [.0367, .044, .0455, .047, .1425, .1205, .122, .124, .126, .128, .13, .132, .134, .136, .138, .139]

# Panel F: one row per cell type
f_vals = [[.034, .045, .055, .065, .072, .08, .088, .096, .104, .112, .12, .143],
          [.032, .04, .05, .06, .068, .076, .084, .092, .1, .11, .12, .131],
          [.021, .03, .04, .05, .058, .068, .078, .086, .096, .106, .118, .13],
          [.035, .05, .058, .064, .072, .08, .088, .096, .104, .112, .122, .132],
          [.034, .05, .06, .068, .076, .084, .092, .1, .108, .116, .122, .146],
          [.034, .045, .055, .064, .072, .08, .088, .096, .104, .112, .147],
          [.0385, .05, .058, .066, .072, .078, .084, .09, .098, .108, .117],
          [.036, .06, .075, .085, .092, .1, .108, .116, .124, .134, .165],
          [.039, .055, .065, .072, .08, .088, .096, .104, .112, .122, .141],
          [.033, .05, .058, .066, .074, .082, .09, .098, .106, .116, .134],
          [.032, .048, .058, .066, .074, .082, .09, .098, .106, .116, .144],
          [.033, .055, .065, .072, .08, .088, .096, .104, .112, .12, .143],
          [.035, .05, .06, .068, .076, .084, .092, .1, .108, .118, .15],
          [.035, .05, .06, .068, .076, .084, .092, .1, .108, .118, .145],
          [.069, .074, .08, .085, .09, .095, .1, .105, .11, .1145]]
f_dens = [[0, 1, 4, 10, 14, 17, 15, 10, 6, 3, 1, 0],
          [0, 1, 3, 9, 14, 17, 15, 10, 6, 2, 1, 0],
          [0, 1, 2, 3, 7, 9, 10, 9, 6, 3, 1, 0],
          [0, 1, 4, 9, 15, 18, 15, 9, 6, 3, 1, 0],
          [0, 1, 3, 9, 14, 16, 14, 8, 5, 2, 1, 0],
          [0, 1, 3, 9, 15, 17, 14, 7, 4, 1, 0],
          [0, 1, 3, 9, 14, 18, 16, 11, 4, 1, 0],
          [0, 1, 3, 9, 13, 16, 14, 8, 3, 1, 0],
          [0, 1, 3, 8, 13, 16, 14, 8, 3, 1, 0],
          [0, 1, 3, 8, 14, 16, 14, 8, 4, 1, 0],
          [0, 1, 3, 7, 13, 16, 14, 8, 4, 1, 0],
          [0, 1, 3, 8, 14, 17, 14, 8, 5, 1, 0],
          [0, 1, 3, 8, 13, 16, 13, 7, 4, 1, 0],
          [0, 1, 3, 8, 13, 16, 13, 8, 5, 1, 0],
          [1, 5, 11, 16, 23, 27, 22, 12, 5, 1]]
f_q1 = [.0733, .0649, .0589, .0706, .0731, .0685, .0682, .0906, .0755, .0731, .0731, .0779, .0747, .0747, .0906]
f_med = [.0826, .0752, .0759, .0788, .0826, .0779, .0764, .1, .0857, .0822, .0831, .0872, .0839, .0841, .0939]
f_q3 = [.0918, .0846, .0867, .0882, .0925, .087, .0846, .1088, .0961, .0917, .0925, .0967, .0937, .0936, .0985]
f_low = [.0342, .0316, .0213, .0345, .0342, .0342, .0385, .0359, .0393, .033, .0321, .0333, .0347, .0347, .0688]
f_high = [.1432, .1312, .1303, .132, .1457, .1471, .1174, .1651, .1411, .1342, .1439, .143, .1497, .1452, .1145]
f_outliers = [[.136, .13, .1255, .1215, .118, .046, .0415],
              [.1185],
              [],
              [.124, .12, .1165, .113, .11, .0445, .042],
              [.136, .129, .124, .119, .044],
              [.139, .132, .128, .1225, .118, .113],
              [],
              [.1495, .1365, .051],
              [.13],
              [.1245, .12, .116, .0455, .042],
              [.1385, .136, .134, .132, .13, .128, .126, .124, .122, .12, .0475, .0435, .04, .0375],
              [.1335, .129, .125, .043],
              [.1425, .1295, .127, .125, .123, .121, .119, .0465, .043],
              [.1375, .13, .125, .12, .0465, .044, .041],
              []]
F_LABELS = ["CD16+ NK cells", "Classical monocytes", "Megakaryocytes/platelets", "Memory B cells", "NK cells", "Naive B cells",
            "Non\u2212classical monocytes", "Plasma cells", "Regulatory T cells", "Tcm/Naive cytotoxic T cells", "Tcm/Naive helper T cells",
            "Tem/Effector helper T cells", "Tem/Temra cytotoxic T cells", "Tem/Trm cytotoxic T cells", "pDC"]

# Panel G: high_Gln cells
high_gln = [(-7.7, 5.7), (-8.3, 5.5), (-7.0, 5.6), (-8.5, 5.1), (-7.6, 5.2), (-7.2, 4.9), (-6.6, 5.3), (-8.7, 4.7), (-8.0, 4.6), (-7.4, 4.4), (-6.8, 4.6), (-6.2, 4.9),
            (-5.8, 4.4), (-8.9, 4.2), (-8.3, 4.0), (-7.7, 3.9), (-7.1, 4.1), (-6.5, 4.2), (-5.5, 4.0), (-8.6, 3.5), (-7.9, 3.4), (-7.4, 3.6), (-6.9, 3.3), (-6.2, 3.7),
            (-5.7, 3.4), (-5.1, 3.6), (-4.9, 3.1), (-8.2, 2.9), (-7.6, 2.7), (-6.6, 2.8), (-6.0, 2.9), (-5.4, 2.6), (-4.6, 2.7), (-4.0, 3.0), (-3.4, 2.8), (-2.8, 3.1),
            (-2.2, 2.7), (-1.6, 3.1), (-1.0, 2.9), (-.5, 3.4), (.1, 3.7), (.6, 3.3), (1.1, 3.9), (1.6, 3.5), (2.2, 3.8), (2.8, 3.4), (3.3, 3.6), (3.9, 3.2), (4.5, 2.9),
            (.9, 2.8), (.2, 2.6), (1.5, 2.7), (2.1, 3.0), (2.7, 2.5), (3.4, 2.8), (4.1, 2.4), (4.8, 2.5), (5.4, 2.3), (-7.8, 2.2), (-7.1, 2.3), (-6.3, 2.1), (-5.7, 2.3),
            (-5.0, 2.0), (-4.2, 2.2), (-3.6, 1.9), (-2.9, 2.3), (-2.1, 2.0), (-1.5, 2.3), (-.7, 2.2), (-.2, 1.9), (.5, 2.0), (1.2, 2.2), (1.9, 1.9), (2.5, 1.8), (3.1, 2.1),
            (3.8, 1.7), (4.5, 1.9), (5.1, 1.6), (5.8, 1.9), (6.4, 1.5), (7.1, 1.6), (7.4, 3.2), (8.2, 3.3), (7.7, 2.8), (8.5, 2.6), (8.0, 2.4),
            (-8.2, 1.5), (-7.5, 1.6), (-6.7, 1.4), (-6.0, 1.6), (-5.3, 1.3), (-4.6, 1.5), (-3.9, 1.1), (-3.2, 1.5), (-9.3, 1.0), (-8.6, .9), (-7.9, 1.1), (-7.2, .8),
            (-6.4, .9), (-5.7, .6), (-5.0, .8), (-4.3, .5), (.5, 1.2), (1.1, 1.4), (1.8, 1.1), (2.4, 1.3), (3.0, .9), (3.7, 1.2), (4.3, .8), (5.0, 1.1), (5.6, .7), (6.2, 1.0),
            (6.9, .7), (7.6, 1.0), (8.2, .7), (-9.8, .5), (-9.1, .3), (-8.4, .4), (-7.7, .2), (-6.2, .1), (-5.0, .1), (.4, .3), (1.0, .5), (1.6, .1), (2.3, .4), (2.9, .1),
            (3.5, .4), (4.1, .0), (4.8, .3), (5.4, .0), (6.0, .3), (6.6, .0), (7.3, .2), (7.9, -.1), (8.6, .2), (-9.5, -.3), (-8.8, -.5), (-8.3, -.2), (1.2, -.4), (2.0, -.3),
            (3.4, -.5), (4.4, -.6), (5.1, -.4), (5.8, -.7), (6.5, -.4), (7.2, -.6), (8.0, -.8), (8.6, -.6), (-9.6, -.9), (-9.0, -1.1), (-8.5, -.9), (4.7, -1.2), (5.4, -1.0),
            (6.1, -1.3), (6.8, -1.0), (7.5, -1.3), (-9.3, -1.4), (2.5, -1.3), (2.9, -1.6), (4.9, -1.7), (5.6, -1.8), (6.3, -1.6), (7.0, -1.9), (-9.45, -2.0), (2.3, -2.0),
            (4.6, -2.2), (5.3, -2.3), (6.0, -2.1), (-9.5, -2.5), (-3.0, -2.1), (-2.4, -1.5), (-2.5, -1.9), (-3.4, -2.7), (-3.6, -3.2), (-3.9, -3.6), (-4.1, -4.0), (2.5, -2.8),
            (2.4, -3.3), (2.25, -3.7), (2.2, -4.4), (2.05, -5.1), (-14.9, -5.35), (-14.7, -5.2), (-15, -5.6), (-8.6, -7.7), (-8.1, -7.6), (-8.4, -7.95), (-7.9, -7.75),
            (1.6, -7.1), (2.0, -7.0), (1.3, -7.5), (1.9, -7.4), (2.6, -7.5), (-1.2, -7.9), (-.6, -8.0), (.6, -7.8), (1.2, -8.0), (2.1, -7.9), (2.8, -8.1), (-2.0, -8.3),
            (-1.4, -8.3), (-.2, -8.2), (.7, -8.4), (1.5, -8.3), (2.4, -8.4), (-2.2, -8.7), (-1.2, -8.8), (-.4, -8.6), (.9, -8.7), (1.6, -8.8), (2.6, -8.7), (-1.7, -9.1),
            (-.8, -9.2), (-.2, -9.0), (1.2, -9.1), (2.2, -9.0), (-.6, -9.5), (.2, -9.4), (-1.2, -9.8), (-.3, -9.9), (-.5, -10.2), (-1.4, -10.4), (-.8, -10.6), (-.2, -10.7),
            (-1.0, -11.0), (-.5, -11.2)]

HEAT_SCALE = [[0, "#00a3e0"], [.277, "#0878a8"], [.338, "#066b96"], [.492, "#043a50"], [.63, "#000000"],
              [.72, "#3f3010"], [.8, "#80651c"], [.89, "#c79f28"], [1, "#f7c530"]]
LOW_GLN, HIGH_GLN = "#1FA7BA", "#8E4FA8"
E_COLORS = ["#4DBBD5", "#3C5488"]

fig = go.Figure()
layout = {}
shapes = []
notes = []
axis_count = [0]


def px_x(v):
    return v / W


def px_y(v):
    return 1 - v / H


def new_axes(box, xrange, yrange, xstyle=None, ystyle=None):
    # box is left, top, right, bottom in figure pixels
    axis_count[0] += 1
    n = axis_count[0]
    suffix = "" if n == 1 else str(n)
    l, t, r, b = box
    base = dict(showgrid=False, zeroline=False, showline=True, linecolor="black", linewidth=1.2, ticks="outside",
                ticklen=4, tickcolor="black", tickfont=dict(family=FONT, size=15, color="black"))
    xa = dict(base, domain=[px_x(l), px_x(r)], range=xrange, anchor="y" + suffix)
    ya = dict(base, domain=[px_y(b), px_y(t)], range=yrange, anchor="x" + suffix)
    xa.update(xstyle or {})
    ya.update(ystyle or {})
    layout["xaxis" + suffix] = xa
    layout["yaxis" + suffix] = ya
    return "x" + suffix, "y" + suffix


def note(x, y, text, size=13, color="black", anchor="center", bold=False, angle=0, style="normal"):
    notes.append(dict(x=px_x(x), y=px_y(y), xref="paper", yref="paper", text=f"<b>{text}</b>" if bold else text, showarrow=False,
                      xanchor=anchor, yanchor="middle", textangle=angle,
                      font=dict(family=FONT, size=size, color=color, style=style)))


def rect(l, t, r, b, fill, line=None, layer="above"):
    shapes.append(dict(type="rect", xref="paper", yref="paper", x0=px_x(l), x1=px_x(r), y0=px_y(b), y1=px_y(t),
                       fillcolor=fill, line=dict(color=line or fill, width=1 if line else 0), layer=layer))


def poly(pts, color, axes, width=2, smooth=True):
    xs = [p[0] for p in pts] + [pts[0][0]]
    ys = [p[1] for p in pts] + [pts[0][1]]
    line = dict(color=color, width=width)
    if smooth:
        line.update(shape="spline", smoothing=.6)
    fig.add_trace(go.Scatter(x=xs, y=ys, mode="lines", fill="toself" if color[:4] != "rgba" else None, fillcolor=color, line=line, xaxis=axes[0], yaxis=axes[1],
                             hoverinfo="skip", showlegend=False))


def dots(pts, color, axes, size=5):
    fig.add_trace(go.Scatter(x=[p[0] for p in pts], y=[p[1] for p in pts], mode="markers", marker=dict(color=color, size=size, line=dict(width=0)),
                             xaxis=axes[0], yaxis=axes[1], hoverinfo="skip", showlegend=False))


def segment(xs, ys, axes, color="black", width=1):
    fig.add_trace(go.Scatter(x=xs, y=ys, mode="lines", line=dict(color=color, width=width), xaxis=axes[0], yaxis=axes[1], hoverinfo="skip", showlegend=False))


def box_mark(c, half, q1, med, q3, low, high, axes, med_width):
    # whisker, white box and median on top of a violin; scatter so it sits above the filled outline
    segment([c, c], [low, high], axes)
    fig.add_trace(go.Scatter(x=[c - half, c + half, c + half, c - half, c - half], y=[q1, q1, q3, q3, q1], mode="lines", fill="toself", fillcolor="white",
                             line=dict(color="black", width=1), xaxis=axes[0], yaxis=axes[1], hoverinfo="skip", showlegend=False))
    segment([c - half, c + half], [med, med], axes, width=med_width)


def discrete_scale(colors):
    n = len(colors)
    out = []
    for i, c in enumerate(colors):
        out += [[i / n, c], [(i + 1) / n, c]]
    return out


UMAP_XT = dict(tickmode="array", tickvals=[-15, -10, -5, 0, 5, 10], ticktext=["\u221215", "\u221210", "\u22125", "0", "5", "10"])
UMAP_YT = dict(tickmode="array", tickvals=[-10, -5, 0, 5], ticktext=["\u221210", "\u22125", "0", "5"])
A_TICK = dict(tickfont=dict(family=FONT, size=16, color="black"))

# --- A ---
a1 = new_axes((63, 57, 475, 602), [-16.26, 10.32], [-12.65, 7.16], dict(UMAP_XT, **A_TICK), dict(UMAP_YT, **A_TICK))
a2 = new_axes((484, 57, 896, 602), [-16.26, 10.32], [-12.65, 7.16], dict(UMAP_XT, **A_TICK),
              dict(showline=False, showticklabels=False, ticks=""))
for pts, col in [(ctrl_helper, SKY), (ctrl_temra, CADET), (ctrl_nk_patch, SLATE), (ctrl_yellow, YELLOW), (ctrl_pink, PINK), (ctrl_nk, SLATE),
                 (ctrl_orange, ORANGE), (ctrl_nonclass, DPURPLE), (ctrl_olive, OLIVE), (ctrl_naive, VIOLET), (ctrl_memory, SALMON), (ctrl_plasma, SIENNA), (ctrl_tan, TAN)]:
    poly(pts, col, a1, width=3)
for pts, col in [(ctrl_yellow_dots, YELLOW), (ctrl_turq_dots, TURQ), (ctrl_tan_dots, TAN), (ctrl_sky_dots, SKY), (ctrl_pink_dots, PINK), (ctrl_cadet_dots, CADET),
                 (ctrl_salmon_dots, SALMON), (ctrl_violet_dots, VIOLET), (ctrl_slate_dots, SLATE)]:
    dots(pts, col, a1)
for pts, col in [(ad_helper, SKY), (ad_temra, CADET), (ad_yellow, YELLOW), (ad_pink, PINK), (ad_orange, ORANGE), (ad_nk, SLATE), (ad_nonclass, DPURPLE),
                 (ad_olive_sky, SKY), (ad_olive, OLIVE), (ad_naive, VIOLET), (ad_memory, SALMON), (ad_plasma, SIENNA), (ad_tan, TAN)]:
    poly(pts, col, a2, width=3)
for pts, col in [(ad_yellow_dots, YELLOW), (ad_turq_dots, TURQ), (ad_tan_dots, TAN), (ad_pink_dots, PINK), (ad_cadet_dots, CADET), (ad_orange_dots, ORANGE), (ad_sky_dots, SKY),
                 (ad_magenta_dots, MAGENTA), (ad_blue_dots, BLUE), (ad_violet_dots, VIOLET), (ad_slate_dots, SLATE), (ad_olive_dots, OLIVE)]:
    dots(pts, col, a2)
note(269, 45, "Control", 15, bold=True)
note(691, 45, "AD", 15, bold=True)
note(480, 640, "UMAP_1", 19)
note(15, 330, "UMAP_2", 19, angle=-90)
a_legend_y = [189.4, 210, 231, 251.8, 272.4, 293.4, 314, 335.5, 356, 376.8, 398, 418.5, 439, 460, 480.8]
for name, col, y in zip(CELL_TYPES, CELL_COLORS, a_legend_y):
    shapes.append(dict(type="circle", xref="paper", yref="paper", x0=px_x(920), x1=px_x(932), y0=px_y(y + 6), y1=px_y(y - 6), fillcolor=col, line=dict(width=0)))
    note(946, y, name, 16, anchor="left")

# --- B ---
rect(1159.5, 29, 1648.5, 44, "#222222", layer="below")
rect(1159.5, 46, 1648.5, 728, "#10202c", layer="below")
bt = new_axes((1159.5, 29, 1648.5, 44), [-.5, 14.5], [-.5, .5], dict(visible=False), dict(visible=False))
fig.add_trace(go.Heatmap(z=[list(range(15))], x=list(range(15)), y=[0], colorscale=discrete_scale(CELL_COLORS), zmin=-.5, zmax=14.5, showscale=False,
                         xgap=1, ygap=1, xaxis=bt[0], yaxis=bt[1], hoverinfo="skip"))
bm = new_axes((1159.5, 46, 1648.5, 728), [-.5, 14.5], [68.5, -.5], dict(visible=False), dict(visible=False))
fig.add_trace(go.Heatmap(z=HEAT, x=list(range(15)), y=list(range(69)), colorscale=HEAT_SCALE, zmin=-2.2, zmax=4.3, xgap=1, ygap=1, xaxis=bm[0], yaxis=bm[1],
                         hoverinfo="skip",
                         colorbar=dict(x=px_x(1763), xanchor="left", y=px_y(296), yanchor="top", lenmode="pixels", len=60, thicknessmode="pixels", thickness=12,
                                       outlinewidth=0, tickvals=[-2, 0, 2, 4], ticks="inside", tickcolor="white", ticklen=3, xpad=0, ypad=0,
                                       tickfont=dict(family=FONT, size=10, color="black"))))
bs = new_axes((1654, 46, 1758, 728), [0, 1], [68.5, -.5], dict(visible=False), dict(visible=False))
strip_groups = [[i // 5] for i in range(69)]
fig.add_trace(go.Heatmap(z=strip_groups, x=[.5], y=list(range(69)), colorscale=discrete_scale(CELL_COLORS[:14]), zmin=-.5, zmax=13.5, showscale=False,
                         xaxis=bs[0], yaxis=bs[1], hoverinfo="skip"))
fig.add_trace(go.Scatter(x=[.015] * 69, y=list(range(69)), mode="text", text=GENES, textposition="middle right",
                         textfont=dict(family=FONT, size=11.5, color="black"), xaxis=bs[0], yaxis=bs[1], hoverinfo="skip", showlegend=False))
b_legend_y = [389.4, 400.7, 412, 423.4, 434.2, 445, 456.4, 467.8, 478.6, 490.4, 501.3, 512, 523.4, 534.3, 545.6]
for name, col, y in zip(HEAT_LEGEND, HEAT_LEGEND_COLORS, b_legend_y):
    rect(1763, y - 5.3, 1774, y + 5.3, col)
    note(1777, y, name, 9.6, anchor="left")

# --- C ---
GRID = "#ebebeb"
c1 = new_axes((94.4, 764.5, 764.6, 1261), [-1.92, 101.95], [-.6, 4.6],
              dict(tickmode="array", tickvals=[0, 25, 50, 75, 100], ticktext=["0%", "25%", "50%", "75%", "100%"], mirror=True, linecolor="#7f7f7f", showgrid=True, gridcolor=GRID,
                   tickfont=dict(family=FONT, size=12.5, color="black")),
              dict(type="category", categoryorder="array", categoryarray=SAMPLES, mirror=True, linecolor="#7f7f7f", showgrid=True, gridcolor=GRID,
                   tickfont=dict(family=FONT, size=12.5, color="black")))
fracs = [frac_NC2, frac_NC1, frac_AD3, frac_AD1, frac_AD2]
for pos, ct in enumerate(STACK_ORDER):
    fig.add_trace(go.Bar(y=SAMPLES, x=[row[pos] for row in fracs], orientation="h", width=.89, marker=dict(color=CELL_COLORS[ct], line=dict(width=0)),
                         xaxis=c1[0], yaxis=c1[1], hoverinfo="skip", showlegend=False))
c2 = new_axes((829.3, 764.5, 1052.5, 1261), [-.185, 4.08], [-.6, 4.6],
              dict(type="log", tickmode="array", tickvals=[1, 10, 100, 1000, 10000], ticktext=["1", "10", "100", "1000", "10000"], mirror=True, linecolor="#7f7f7f", showgrid=True, gridcolor=GRID,
                   tickfont=dict(family=FONT, size=12.5, color="black")),
              dict(type="category", categoryorder="array", categoryarray=SAMPLES, mirror=True, linecolor="#7f7f7f", showgrid=True, gridcolor=GRID,
                   tickfont=dict(family=FONT, size=12.5, color="black")))
fig.add_trace(go.Bar(y=SAMPLES, x=cells_per_sample, base=1, orientation="h", width=.89, marker=dict(color="#999999", line=dict(width=0)),
                     xaxis=c2[0], yaxis=c2[1], hoverinfo="skip", showlegend=False))
note(429, 1291, "Fraction of cells in each sample", 12.5)
note(941, 1291, "Cells per cluster, log10 scale", 12.5)
note(67, 709, "Sample", 11)
c_swatch_x = [90, 240, 346, 494, 654]
c_label_x = [117, 266.6, 372.6, 520.7, 681]
c_row_y = [686, 709, 732]
for col_i, members in enumerate(C_LEGEND_COLS):
    for row_i, ct in enumerate(members):
        y = c_row_y[row_i]
        rect(c_swatch_x[col_i], y - 10.5, c_swatch_x[col_i] + 20, y + 10.5, CELL_COLORS[ct])
        note(c_label_x[col_i], y, C_LEGEND_CLIPPED.get(ct, CELL_TYPES[ct]), 10.3, anchor="left")

# --- D ---
d = new_axes((1212.7, 757, 1686, 1241.6), [-16.27, 10.21], [-12.69, 7.15], UMAP_XT, UMAP_YT)


def dens_color(level):
    return sample_colorscale("Viridis", [level / DENSITY_MAX])[0]


def soft(col, alpha):
    return col.replace("rgb(", "rgba(").replace(")", f", {alpha})")


base_col = dens_color(DENSITY_BASE)
for pts in [body, isl_nk, isl_line, isl_small, isl_nc, isl_olive, isl_orange]:
    poly(pts, base_col, d, width=3)
dots(stray_cells, base_col, d, size=5.5)
for level, pts in [dens_mid, dens_temra, dens_left, dens_centre, dens_dark, dens_dark2, dens_dark3, dens_mid2, dens_mid3, dens_right, dens_orange, dens_nc, dens_line, dens_olive,
                   dens_m1, dens_m2, dens_m3, dens_b_low, dens_g1, dens_g2, dens_g3, dens_g4, dens_g5, dens_g6, dens_g7, dens_g8, dens_g9, dens_g10,
                   dens_y8, dens_y7, dens_y2, dens_y3, dens_y4, dens_y1, dens_y5, dens_y6]:
    col = dens_color(level)
    # soft rim so that the density steps blend
    if level > .00006 and pts not in (dens_nc[1], dens_line[1], dens_olive[1]):
        poly(pts, soft(col, .25), d, width=12)
        poly(pts, soft(col, .45), d, width=6)
    poly(pts, col, d, width=0)
fig.add_trace(go.Scatter(x=[-15], y=[-5.5], mode="markers", xaxis=d[0], yaxis=d[1], hoverinfo="skip", showlegend=False,
                         marker=dict(size=1, color=[DENSITY_BASE], colorscale="Viridis", cmin=0, cmax=DENSITY_MAX, showscale=True,
                                     colorbar=dict(x=px_x(1713), xanchor="left", y=px_y(947), yanchor="top", lenmode="pixels", len=137, thicknessmode="pixels", thickness=27.5,
                                                   outlinewidth=0, xpad=0, ypad=0, tickmode="array", tickvals=[.00005, .0001, .00015, .0002], ticktext=["0.00005", "0.00010", "0.00015", "0.00020"],
                                                   ticks="inside", tickcolor="white", ticklen=5, tickfont=dict(family=FONT, size=17, color="black")))))
note(1504.5, 771.4, "Gln metabolism", 17.5, color="#E31A1C")
note(1449, 1277, "UMAP 1", 14.5)
note(1161, 1000, "UMAP 2", 14.5, angle=-90)
note(1713, 925.6, "Density", 20.5, anchor="left")

# --- E ---
YT_E = dict(tickmode="array", tickvals=[.04, .08, .12, .16], ticktext=["0.04", "0.08", "0.12", "0.16"])
e = new_axes((68, 1407.8, 534.6, 1741.6), [-.596, 1.603], [.027, .1621],
             dict(tickmode="array", tickvals=[0, 1], ticktext=["Control", "AD"], mirror=True, linecolor="#555555", linewidth=2, ticklen=7, tickcolor="black", tickfont=dict(family=FONT, size=14.5, color="black")),
             dict(YT_E, mirror=True, linecolor="#555555", linewidth=2, tickfont=dict(family=FONT, size=14.5, color="black")))
for c, profile, col in [(0, ctrl_profile, E_COLORS[0]), (1, ad_profile, E_COLORS[1])]:
    xs = [c - p[1] for p in profile] + [c + p[1] for p in reversed(profile)]
    ys = [p[0] for p in profile] + [p[0] for p in reversed(profile)]
    fig.add_trace(go.Scatter(x=xs, y=ys, mode="lines", fill="toself", fillcolor=col, line=dict(color="black", width=1, shape="spline", smoothing=.5),
                             xaxis=e[0], yaxis=e[1], hoverinfo="skip", showlegend=False))
for c in [0, 1]:
    box_mark(c, .1, e_q1[c], e_med[c], e_q3[c], e_low[c], e_high[c], e, 2.5)
fig.add_trace(go.Scatter(x=[0] * len(e_ctrl_outliers) + [1] * len(e_ad_outliers), y=e_ctrl_outliers + e_ad_outliers, mode="markers", marker=dict(color="black", size=5),
                         xaxis=e[0], yaxis=e[1], hoverinfo="skip", showlegend=False))
segment([0, 0, 1, 1], [.1495, .1504, .1504, .143], e, color="#444444")
fig.add_trace(go.Scatter(x=[.5], y=[.1535], mode="text", text=["****"], textfont=dict(family=FONT, size=10, color="black"), xaxis=e[0], yaxis=e[1], hoverinfo="skip", showlegend=False))
note(236.5, 1377, "group", 14)
rect(264, 1366, 283.5, 1386, E_COLORS[0], line="#333333")
note(291.6, 1377, "Control", 11, anchor="left")
rect(339, 1366, 359, 1386, E_COLORS[1], line="#222222")
note(367, 1377, "AD", 11, anchor="left")
note(301, 1782, "UCell", 13.5)
note(20, 1576, "Relative density of Gln metabolism", 13.5, angle=-90)

# --- F ---
f = new_axes((611, 1357, 1258, 1658), [-.583, 14.57], [.014, .1725],
             dict(tickmode="array", tickvals=list(range(15)), ticktext=F_LABELS, tickangle=-50, tickfont=dict(family=FONT, size=12.5, color="black", style="italic")),
             dict(YT_E, tickfont=dict(family=FONT, size=14, color="black")))
VIOLIN_SCALE = .019
for i in range(15):
    left = [i - w * VIOLIN_SCALE for w in f_dens[i]]
    right = [i + w * VIOLIN_SCALE for w in reversed(f_dens[i])]
    fig.add_trace(go.Scatter(x=left + right, y=f_vals[i] + f_vals[i][::-1], mode="lines", fill="toself", fillcolor=CELL_COLORS[i],
                             line=dict(color="#222222", width=.8, shape="spline", smoothing=.5), xaxis=f[0], yaxis=f[1], hoverinfo="skip", showlegend=False))
    box_mark(i, .095, f_q1[i], f_med[i], f_q3[i], f_low[i], f_high[i], f, 2)
    if f_outliers[i]:
        fig.add_trace(go.Scatter(x=[i] * len(f_outliers[i]), y=f_outliers[i], mode="markers", marker=dict(color="black", size=5), xaxis=f[0], yaxis=f[1], hoverinfo="skip", showlegend=False))
note(934, 1808, "UCell", 12.5)
note(568.6, 1507, "Relative density of Gln metabolism", 12, angle=-90)

# --- G ---
g = new_axes((1338.7, 1364.8, 1725.4, 1732.4), [-16.2, 10.28], [-12.65, 7.14], dict(UMAP_XT, ticklen=7), UMAP_YT)
for pts in [body, isl_nk, isl_line, isl_small, isl_nc, isl_olive, isl_orange]:
    poly(pts, LOW_GLN, g, width=3)
dots(stray_cells, LOW_GLN, g, size=4.5)
dots(high_gln, HIGH_GLN, g, size=4.5)
note(1567.5, 1358, "Gln metabolism", 20.5, bold=True)
note(1531, 1778, "UMAP_1", 18.5)
note(1289.5, 1548, "UMAP_2", 18.5, angle=-90)
for label, col, y in [("low_Gln", LOW_GLN, 1550), ("high_Gln", HIGH_GLN, 1570)]:
    shapes.append(dict(type="circle", xref="paper", yref="paper", x0=px_x(1716), x1=px_x(1728), y0=px_y(y + 6), y1=px_y(y - 6), fillcolor=col, line=dict(width=0)))
    note(1742.6, y, label, 16, anchor="left")

# panel letters
for letter, x, y in [("A", 18, 22), ("B", 1107, 18), ("C", 15, 667), ("D", 1140, 772), ("E", 48.6, 1338), ("F", 567, 1326), ("G", 1282.5, 1330)]:
    note(x, y, letter, 26, bold=True)

fig.update_layout(width=W, height=H, autosize=False, margin=dict(l=0, r=0, t=0, b=0, autoexpand=False), paper_bgcolor="white", plot_bgcolor="rgba(0,0,0,0)",
                  barmode="stack", showlegend=False, shapes=shapes, annotations=notes, font=dict(family=FONT), **layout)

fig.write_html("out.html", config={"displayModeBar": False}, post_script="document.body.style.margin='0';")
